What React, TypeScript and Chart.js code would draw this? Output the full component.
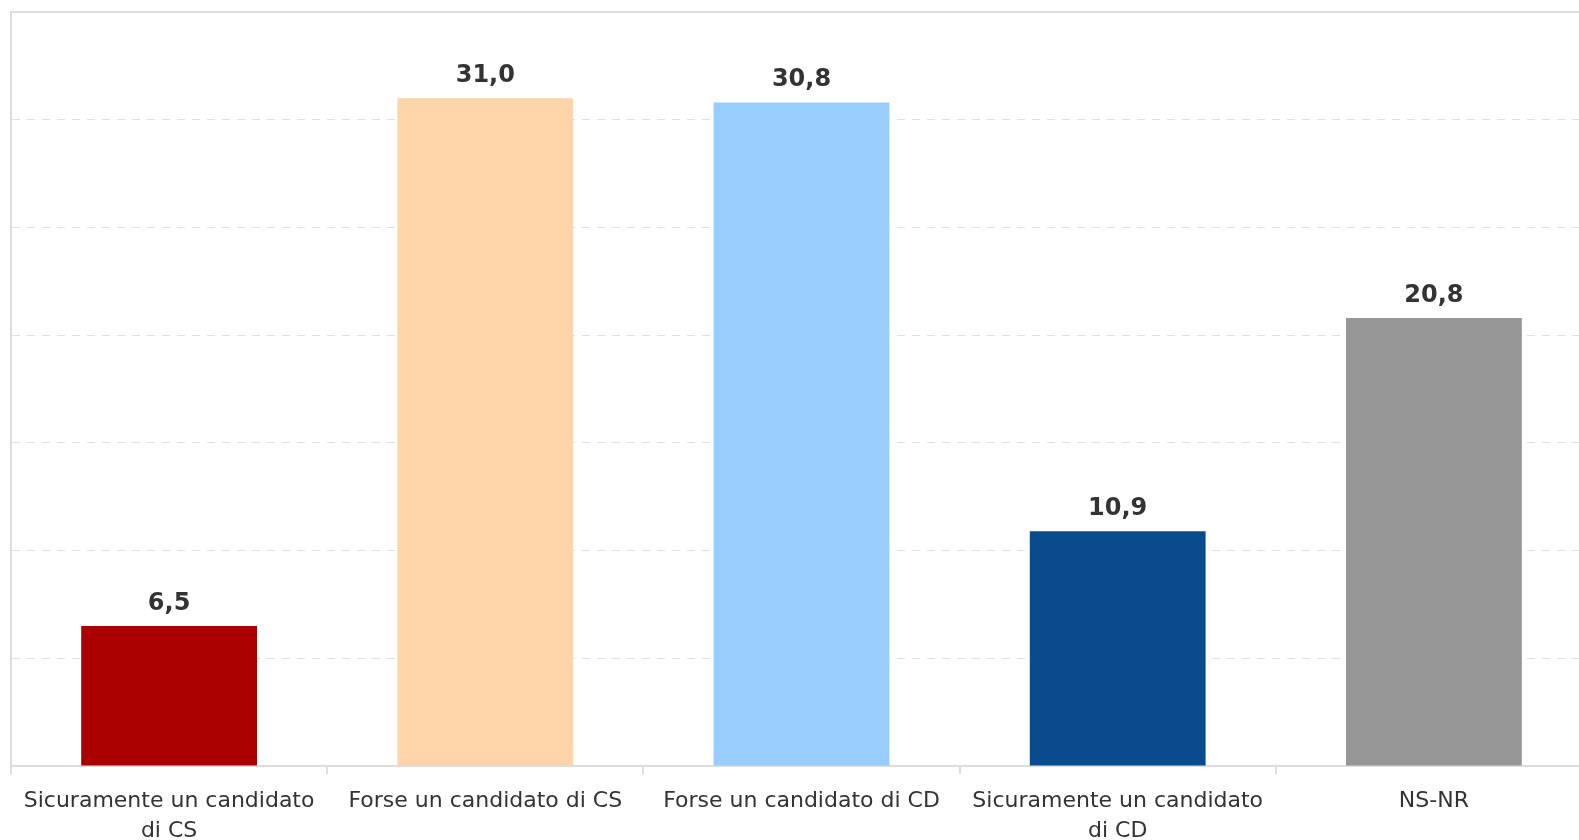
import React, { useEffect, useRef } from "react";
import { Chart, registerables } from "chart.js";

Chart.register(...registerables);

const categories: string[][] = [
  ["Sicuramente un candidato", "di CS"],
  ["Forse un candidato di CS"],
  ["Forse un candidato di CD"],
  ["Sicuramente un candidato", "di CD"],
  ["NS-NR"],
];
const values: number[] = [6.5, 31.0, 30.8, 10.9, 20.8];
const barColors: string[] = ["#AA0000", "#FDD5A8", "#99CCFF", "#0A4B8E", "#969696"];
const yMax = 35;
const yStep = 5;

const valueLabels = {
  id: "valueLabels",
  afterDatasetsDraw(chart: any) {
    const ctx = chart.ctx;
    const meta = chart.getDatasetMeta(0);
    ctx.save();
    ctx.font = "bold 24px 'DejaVu Sans', sans-serif";
    ctx.fillStyle = "#333333";
    ctx.textAlign = "center";
    ctx.textBaseline = "alphabetic";
    meta.data.forEach((bar: any, i: number) => {
      const v = values[i];
      ctx.fillText(v.toFixed(1).replace(".", ","), bar.x, bar.y - 16);
    });
    ctx.restore();
  },
};

const topBorder = {
  id: "topBorder",
  afterDraw(chart: any) {
    const { ctx, chartArea } = chart;
    ctx.save();
    ctx.strokeStyle = "#dddddd";
    ctx.lineWidth = 2;
    ctx.beginPath();
    ctx.moveTo(chartArea.left - 1, chartArea.top);
    ctx.lineTo(chartArea.right, chartArea.top);
    ctx.stroke();
    ctx.restore();
  },
};

export default function App() {
  const ref = useRef<HTMLCanvasElement | null>(null);
  useEffect(() => {
    if (!ref.current) return;
    const chart = new Chart(ref.current, {
      type: "bar",
      data: {
        labels: categories,
        datasets: [
          {
            data: values,
            backgroundColor: barColors,
            borderWidth: 0,
            barPercentage: 0.556,
            categoryPercentage: 1,
          },
        ],
      },
      options: {
        responsive: false,
        animation: false,
        devicePixelRatio: 1,
        layout: { padding: { left: 11, top: 12, right: 0, bottom: 0 } },
        plugins: {
          legend: { display: false },
          tooltip: { enabled: false },
          title: { display: false },
        },
        scales: {
          x: {
            grid: {
              display: true,
              offset: true,
              drawOnChartArea: false,
              drawTicks: true,
              tickLength: 8,
              color: "#dddddd",
              lineWidth: 2,
            },
            border: { display: true, color: "#dddddd", width: 2 },
            ticks: {
              color: "#333333",
              padding: 12,
              maxRotation: 0,
              autoSkip: false,
              font: {
                family: "'DejaVu Sans', sans-serif",
                size: 22,
                lineHeight: "30px",
              },
            },
          },
          y: {
            min: 0,
            max: yMax,
            grid: {
              drawTicks: false,
              lineWidth: 1,
              color: (c: any) =>
                c.tick && (c.tick.value === 0 || c.tick.value === yMax)
                  ? "rgba(0,0,0,0)"
                  : "#e0e0e0",
            },
            border: { display: true, color: "#dddddd", width: 2, dash: [8, 7] as any },
            ticks: { display: false, stepSize: yStep },
          },
        },
      },
      plugins: [valueLabels, topBorder],
    });
    return () => chart.destroy();
  }, []);

  return (
    <div
      style={{
        position: "fixed",
        left: 0,
        top: 0,
        width: "100vw",
        height: "100vh",
        overflow: "hidden",
        background: "#ffffff",
      }}
    >
      <canvas
        ref={ref}
        width={1592}
        height={858}
        style={{ width: 1592, height: 858, display: "block" }}
      />
    </div>
  );
}
